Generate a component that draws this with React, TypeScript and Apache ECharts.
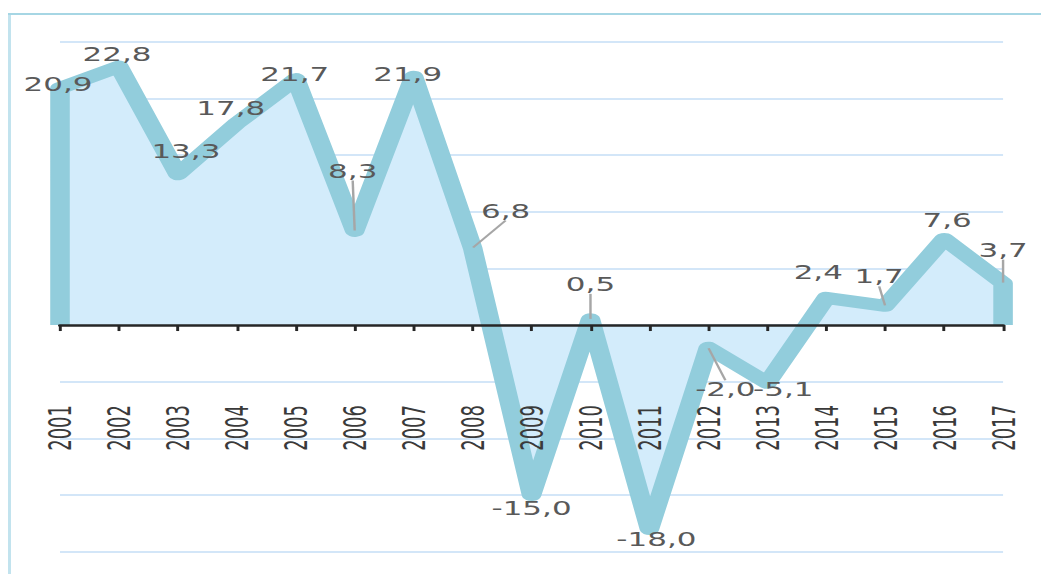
import React, { useEffect, useRef } from "react";
import * as echarts from "echarts";

// ---- data ----
const years = [
  "2001", "2002", "2003", "2004", "2005", "2006", "2007", "2008", "2009",
  "2010", "2011", "2012", "2013", "2014", "2015", "2016", "2017",
];
const growth = [
  20.9, 22.8, 13.3, 17.8, 21.7, 8.3, 21.9, 6.8, -15.0,
  0.5, -18.0, -2.0, -5.1, 2.4, 1.7, 7.6, 3.7,
];
const yMin = -20;
const yMax = 25;
const yStep = 5;

// label nudges (px, relative to the point) to mimic the hand-placed labels
const labelNudges: [number, number][] = [
  [-2, -4], [-2, -12], [8, -23], [-6, -15], [-1, -5], [-2, -60], [-6, -2], [33, -37],
  [0, 13], [0, -35], [7, 10], [17, 42], [16, 7], [-8, -25], [-6, -29], [3, -19], [0, -33],
];
const guidedYears = ["2006", "2008", "2010", "2012", "2015", "2017"];

// ---- layout ----
const W = 1041;
const H = 574;
const S = 1.63; // horizontal stretch of the whole picture
const GRID_TOP = 41.7;
const GRID_BOTTOM = 22.3;
const LABEL_END_Y = 405; // where the rotated year labels end

const fmt = (v: number) => v.toFixed(1).replace(".", ",");

export default function App() {
  const ref = useRef<HTMLDivElement>(null);

  useEffect(() => {
    if (!ref.current) return;
    const chart = echarts.init(ref.current, null, { renderer: "svg" });
    const last = years.length - 1;

    const lineData: any[] = [
      { value: [years[0], 0], label: { show: false } },
      ...growth.map((v, i) => ({
        value: [years[i], v],
        labelLine: { show: guidedYears.includes(years[i]) },
      })),
      { value: [years[last], 0], label: { show: false } },
    ];

    chart.setOption({
      animation: false,
      backgroundColor: "#ffffff",
      grid: {
        left: 60 / S,
        right: (W - 1002.5) / S,
        top: GRID_TOP,
        bottom: GRID_BOTTOM,
        containLabel: false,
        outerBoundsMode: "none",
      },
      graphic: [
        {
          type: "line",
          shape: { x1: 9.5 / S, y1: 14, x2: 9.5 / S, y2: H },
          style: { stroke: "#c2e3ee", lineWidth: 3 / S },
          z: 0,
        },
        {
          type: "line",
          shape: { x1: 8 / S, y1: 14, x2: W / S, y2: 14 },
          style: { stroke: "#a6d6e4", lineWidth: 2 },
          z: 0,
        },
      ],
      xAxis: {
        type: "category",
        data: years,
        boundaryGap: false,
        axisLine: { onZero: true, lineStyle: { color: "#262626", width: 2.5 } },
        axisTick: { show: true, length: 6, lineStyle: { color: "#262626", width: 1.8 } },
        axisLabel: {
          rotate: 90,
          margin: LABEL_END_Y - (H - GRID_BOTTOM),
          fontFamily: "'DejaVu Sans Condensed', 'DejaVu Sans', sans-serif",
          fontSize: 20,
          color: "#3a3a3a",
        },
        splitLine: { show: false },
        z: 5,
      },
      yAxis: {
        type: "value",
        min: yMin,
        max: yMax,
        interval: yStep,
        axisLabel: { show: false },
        axisLine: { show: false },
        axisTick: { show: false },
        splitLine: { lineStyle: { color: "#c4def6", width: 1.6 } },
      },
      series: [
        {
          type: "line",
          data: lineData,
          symbol: "circle",
          symbolSize: 1,
          itemStyle: { color: "rgba(0,0,0,0)" },
          lineStyle: { color: "#92cddc", width: 12, join: "round", cap: "butt" },
          areaStyle: { color: "#d3ecfb", opacity: 1 },
          label: {
            show: true,
            position: "inside",
            formatter: (p: any) => fmt(p.value[1]),
            fontFamily: "'DejaVu Sans', sans-serif",
            fontSize: 19,
            color: "#595959",
          },
          labelLayout: (p: any) => {
            const i = p.dataIndex - 1;
            if (i < 0 || i >= labelNudges.length) return {};
            return { dx: labelNudges[i][0] / S, dy: labelNudges[i][1] };
          },
          labelLine: { show: false, lineStyle: { color: "#a6a6a6", width: 1.5 } },
          z: 2,
        },
      ],
    });

    return () => chart.dispose();
  }, []);

  return (
    <div
      ref={ref}
      style={{
        position: "absolute",
        left: 0,
        top: 0,
        width: W / S,
        height: H,
        transform: `scaleX(${S})`,
        transformOrigin: "0 0",
      }}
    />
  );
}
